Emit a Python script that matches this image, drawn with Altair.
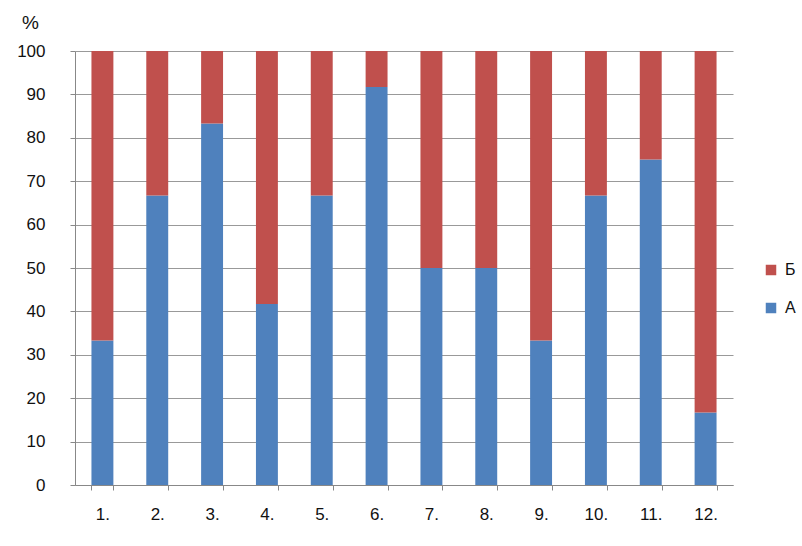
import altair as alt
import pandas as pd

categories = ["1.", "2.", "3.", "4.", "5.", "6.", "7.", "8.", "9.", "10.", "11.", "12."]
a_values = [33.3, 66.7, 83.3, 41.7, 66.7, 91.7, 50.0, 50.0, 33.3, 66.7, 75.0, 16.7]
b_values = [100 - v for v in a_values]
series = ["Б", "A"]
colors = ["#C0504D", "#4F81BD"]
y_ticks = list(range(0, 101, 10))

rows = []
for c, a, b in zip(categories, a_values, b_values):
    rows.append({"cat": c, "series": "A", "value": a, "ord": 0})
    rows.append({"cat": c, "series": "Б", "value": b, "ord": 1})
df = pd.DataFrame(rows)

font = "Liberation Sans"

chart = alt.Chart(df).mark_bar().encode(
    x=alt.X("cat:N", sort=categories,
            scale=alt.Scale(paddingInner=0.6, paddingOuter=0.3),
            axis=alt.Axis(title=None, labelAngle=0, tickBand="extent", tickSize=5,
                          tickColor="#888888", domainColor="#888888",
                          labelFontSize=17, labelFont=font, labelColor="#111111",
                          labelPadding=16, grid=False)),
    y=alt.Y("value:Q", stack="zero", scale=alt.Scale(domain=[0, 100], nice=False),
            axis=alt.Axis(values=y_ticks, title="%", titleAngle=0, titleX=-45, titleY=-29,
                          titleAlign="center", titleBaseline="middle", titleFontSize=19,
                          titleFontWeight="normal", titleFont=font, titleColor="#111111",
                          tickSize=5, tickColor="#888888", domainColor="#888888",
                          gridColor="#999999", labelFontSize=17, labelFont=font,
                          labelColor="#111111", labelPadding=25)),
    color=alt.Color("series:N", scale=alt.Scale(domain=series, range=colors),
                    legend=alt.Legend(title=None, orient="none", legendX=688, legendY=211,
                                      symbolType="square", symbolSize=110, symbolStrokeWidth=0,
                                      labelFontSize=16, labelFont=font, labelColor="#111111",
                                      rowPadding=22, labelOffset=6)),
    order=alt.Order("ord:Q"),
).properties(
    width=658, height=434,
    padding={"left": 75, "top": 51, "right": 69, "bottom": 61},
    autosize=alt.AutoSizeParams(type="none"),
).configure_view(stroke=None)

chart.save("out.html", embed_options={"renderer": "svg", "actions": False})
